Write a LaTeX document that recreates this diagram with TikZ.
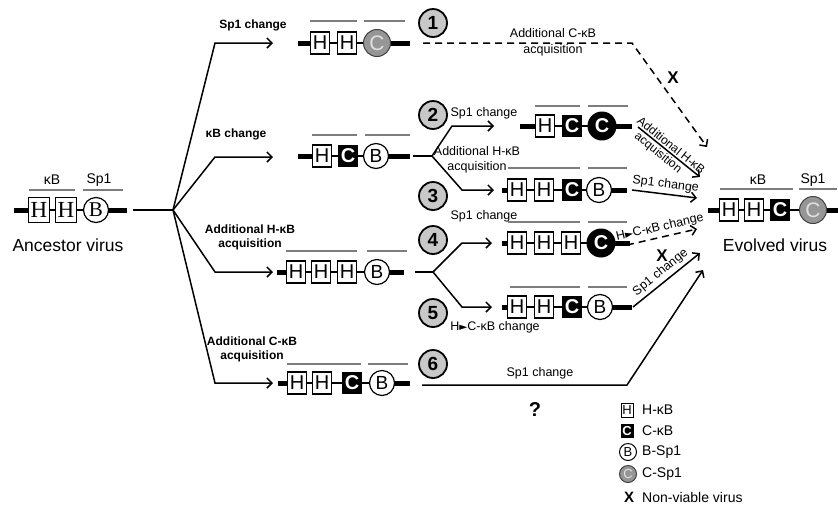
\documentclass[tikz,border=0pt]{standalone}
\usepackage{fontspec}
\setmainfont{Liberation Sans}
\newfontfamily\serifH{Liberation Serif}
\newfontfamily\djv{DejaVu Sans}
\usetikzlibrary{arrows.meta}
\definecolor{numgray}{RGB}{200,200,200}
\definecolor{spgray}{RGB}{150,150,150}
\definecolor{linegray}{RGB}{125,125,125}
\newcommand\bbone[5]{%
  \draw[bbthin] (#2,#1) -- (#5,#1);
  \draw[bbthick] (#2,#1) -- (#3,#1);
  \draw[bbthick] (#4,#1) -- (#5,#1);}
\newcommand\tri{{\djv\fontsize{10.5}{10}\selectfont ►}}
\tikzset{
  bbthin/.style={line width=1.8pt},
  bbthick/.style={line width=5pt},
  hbox/.style={draw, line width=1.1pt, fill=white, minimum width=19pt, minimum height=22pt, inner sep=0pt, font=\fontsize{20}{20}\selectfont},
  ahbox/.style={draw, line width=1.1pt, fill=white, minimum width=21pt, minimum height=25pt, inner sep=0pt, font=\serifH\fontsize{23}{23}\selectfont},
  cbox/.style={fill=black, text=white, minimum width=20pt, minimum height=22pt, inner sep=0pt, font=\bfseries\fontsize{20}{20}\selectfont},
  bcirc/.style={circle, draw, line width=1.2pt, fill=white, minimum size=25pt, inner sep=0pt, font=\fontsize{19}{19}\selectfont},
  abcirc/.style={circle, draw, line width=1.2pt, fill=white, minimum size=25pt, inner sep=0pt, font=\serifH\fontsize{21}{21}\selectfont},
  kcirc/.style={circle, fill=black, text=white, minimum size=29pt, inner sep=0pt, font=\bfseries\fontsize{20}{20}\selectfont},
  gcirc/.style={circle, draw=black!75, line width=1pt, fill=spgray, text=black!12, minimum size=27pt, inner sep=0pt, font=\fontsize{21}{21}\selectfont},
  numc/.style={circle, draw, line width=1.8pt, fill=numgray, minimum size=28pt, inner sep=0pt, font=\bfseries\fontsize{19}{19}\selectfont},
  conn/.style={line width=1.5pt},
  arr/.style={conn, -{Straight Barb[length=5pt,width=10pt]}},
  darr/.style={arr, dash pattern=on 7pt off 5pt},
  glab/.style={draw=linegray, line width=1.1pt},
  lab/.style={font=\fontsize{12.5}{15}\selectfont, inner sep=1pt, align=center},
  slab/.style={font=\fontsize{12}{14}\selectfont, inner sep=1pt},
  blab/.style={font=\bfseries\fontsize{12}{14}\selectfont, inner sep=0pt, align=center},
  toplab/.style={font=\fontsize{14}{14}\selectfont, inner sep=0pt},
  bigl/.style={font=\fontsize{17.5}{18}\selectfont, inner sep=0pt},
  xmark/.style={font=\bfseries\fontsize{17}{17}\selectfont, inner sep=0pt},
  legt/.style={font=\fontsize{14}{14}\selectfont, inner sep=0pt, anchor=west},
  lhbox/.style={draw, line width=0.9pt, fill=white, minimum width=12pt, minimum height=14pt, inner sep=0pt, font=\fontsize{13}{13}\selectfont},
  lcbox/.style={fill=black, text=white, minimum width=13pt, minimum height=14pt, inner sep=0pt, font=\bfseries\fontsize{13}{13}\selectfont},
  lbcirc/.style={circle, draw, line width=1pt, fill=white, minimum size=17pt, inner sep=0pt, font=\fontsize{13}{13}\selectfont},
  lgcirc/.style={circle, draw=black!75, line width=1pt, fill=spgray, text=black!12, minimum size=17pt, inner sep=0pt, font=\fontsize{13}{13}\selectfont},
}
\begin{document}
\begin{tikzpicture}[x=1pt,y=-1pt]
\useasboundingbox (0,0) rectangle (838,507);

% ---------- Ancestor virus
\bbone{210}{14}{39}{96}{127}
\node[ahbox] (a1) at (39,210) {H};
\node[ahbox] (a2) at (66,210) {H};
\node[abcirc] (a3) at (96,210) {B};
\draw[glab] (29,190) -- (75,190);
\draw[glab] (83,190) -- (123,190);
\node[toplab] (akb) at (52,180) {κB};
\node[toplab] (asp) at (99,180) {Sp1};
\node[bigl] (anc) at (68,245) {Ancestor virus};

\coordinate (aout) at (133,210);
\coordinate (br0) at (173,210);
\draw[conn] (aout) -- (br0);
\coordinate (k1) at (215,43);  \coordinate (t1) at (273,43);
\coordinate (k2) at (215,157); \coordinate (t2) at (273,157);
\coordinate (k3) at (215,272); \coordinate (t3) at (273,272);
\coordinate (k4) at (215,383); \coordinate (t4) at (273,383);
\draw[arr] (br0) -- (k1) -- (t1);
\draw[arr] (br0) -- (k2) -- (t2);
\draw[arr] (br0) -- (k3) -- (t3);
\draw[arr] (br0) -- (k4) -- (t4);
\node[blab] (l1) at (253,25) {Sp1 change};
\node[blab] (l2) at (236,134) {κB change};
\node[blab] (l3) at (250,237) {Additional H-κB\\acquisition};
\node[blab] (l4) at (252,349) {Additional C-κB\\acquisition};

% ---------- Row 1
\bbone{43}{298}{320}{377}{410}
\node[hbox] (r1a) at (320,43) {H};
\node[hbox] (r1b) at (347,43) {H};
\node[gcirc] (r1c) at (377,43) {C};
\draw[glab] (310,21) -- (357,21);
\draw[glab] (364,21) -- (405,21);
\node[numc] (n1) at (433,23) {1};

% ---------- kB change row
\bbone{156}{298}{322}{376}{410}
\node[hbox] (k2a) at (322,156) {H};
\node[cbox] (k2b) at (348,156) {C};
\node[bcirc] (k2c) at (376,156) {B};
\draw[glab] (312,135) -- (357,135);
\draw[glab] (365,135) -- (410,135);
\coordinate (kout) at (413,156);
\coordinate (br1) at (432,156);
\coordinate (u2) at (452,126); \coordinate (v2) at (494,126);
\coordinate (u3) at (462,190); \coordinate (v3) at (494,190);
\draw[conn] (kout) -- (br1);
\draw[arr] (br1) -- (u2) -- (v2);
\draw[arr] (br1) -- (u3) -- (v3);
\node[numc] (n2) at (433,115) {2};
\node[numc] (n3) at (433,196) {3};
\node[lab] (s2) at (484,113) {Sp1 change};
\node[lab] (s3a) at (477,160) {Additional H-κB\\acquisition};
\node[lab] (s3b) at (484,216) {Sp1 change};

% ---------- Row 2
\bbone{126}{520}{545}{602}{632}
\node[hbox] (r2a) at (545,126) {H};
\node[cbox] (r2b) at (572,126) {C};
\node[kcirc] (r2c) at (602,126) {C};
\draw[glab] (535,106) -- (580,106);
\draw[glab] (588,106) -- (628,106);

% ---------- Row 3
\bbone{190}{502}{517}{599}{627}
\node[hbox] (r3a) at (517,190) {H};
\node[hbox] (r3b) at (544,190) {H};
\node[cbox] (r3c) at (572,190) {C};
\node[bcirc] (r3d) at (599,190) {B};
\draw[glab] (508,168) -- (580,168);
\draw[glab] (588,168) -- (627,168);

% ---------- Additional H-kB row
\bbone{272}{277}{296}{377}{404}
\node[hbox] (h1) at (296,272) {H};
\node[hbox] (h2) at (321,272) {H};
\node[hbox] (h3) at (347,272) {H};
\node[bcirc] (h4) at (377,272) {B};
\draw[glab] (286,251) -- (357,251);
\draw[glab] (367,251) -- (407,251);
\coordinate (hout) at (415,272);
\coordinate (br2) at (433,272);
\coordinate (u4) at (462,243); \coordinate (v4) at (492,243);
\coordinate (u5) at (462,307); \coordinate (v5) at (492,307);
\draw[conn] (hout) -- (br2);
\draw[arr] (br2) -- (u4) -- (v4);
\draw[arr] (br2) -- (u5) -- (v5);
\node[numc] (n4) at (433,240) {4};
\node[numc] (n5) at (433,313) {5};
\node[lab] (s5) at (495,327) {H\tri C-κB change};

% ---------- Row 4
\bbone{243}{502}{517}{601}{630}
\node[hbox] (r4a) at (517,243) {H};
\node[hbox] (r4b) at (544,243) {H};
\node[hbox] (r4c) at (571,243) {H};
\node[kcirc] (r4d) at (601,243) {C};
\draw[glab] (508,222) -- (580,222);
\draw[glab] (588,222) -- (627,222);

% ---------- Row 5
\bbone{307}{502}{517}{600}{632}
\node[hbox] (r5a) at (517,307) {H};
\node[hbox] (r5b) at (544,307) {H};
\node[cbox] (r5c) at (572,307) {C};
\node[bcirc] (r5d) at (600,307) {B};
\draw[glab] (510,287) -- (580,287);
\draw[glab] (588,287) -- (627,287);

% ---------- Row 6
\bbone{383}{278}{297}{382}{410}
\node[hbox] (r6a) at (297,383) {H};
\node[hbox] (r6b) at (322,383) {H};
\node[cbox] (r6c) at (352,383) {C};
\node[bcirc] (r6d) at (382,383) {B};
\draw[glab] (287,364) -- (361,364);
\draw[glab] (368,364) -- (408,364);
\node[numc] (n6) at (433,364) {6};

% ---------- Evolved virus
\bbone{210}{708}{729}{813}{838}
\node[hbox] (e1) at (729,210) {H};
\node[hbox] (e2) at (754,210) {H};
\node[cbox] (e3) at (780,210) {C};
\node[gcirc] (e4) at (813,210) {C};
\draw[glab] (720,189) -- (793,189);
\draw[glab] (799,189) -- (837,189);
\node[toplab] (ekb) at (758,180) {κB};
\node[toplab] (esp) at (813,180) {Sp1};
\node[bigl] (evo) at (775,245) {Evolved virus};

% ---------- paths to evolved virus
\coordinate (p1a) at (423,43); \coordinate (p1b) at (632,43); \coordinate (p1c) at (707,147);
\draw[darr] (p1a) -- (p1b) -- (p1c);
\node[lab] (m1a) at (553,33) {Additional C-κB};
\node[lab] (m1b) at (553,50) {acquisition};
\node[xmark] (x1) at (673,78) {X};

\coordinate (p2a) at (638,127); \coordinate (p2b) at (700,177);
\draw[arr] (p2a) -- (p2b)
  node[pos=0.47, above=0.5pt, sloped, slab] {Additional H-κB}
  node[pos=0.40, below=0.5pt, sloped, slab] {acquisition};

\coordinate (p3a) at (632,190); \coordinate (p3b) at (697,198);
\draw[arr] (p3a) -- (p3b) node[midway, above=2pt, sloped, lab] {Sp1 change};

\coordinate (p4a) at (627,245); \coordinate (p4b) at (697,229);
\draw[darr] (p4a) -- (p4b) node[midway, above=2pt, sloped, lab] {H\tri C-κB change};
\node[xmark] (x4) at (662,256) {X};

\coordinate (p5a) at (633,307); \coordinate (p5b) at (700,253);
\draw[arr] (p5a) -- (p5b) node[midway, above=2pt, sloped, lab] {Sp1 change};

\coordinate (p6a) at (422,385); \coordinate (p6b) at (627,385); \coordinate (p6c) at (703,270);
\draw[arr] (p6a) -- (p6b) -- (p6c);
\node[lab] (s6) at (540,373) {Sp1 change};
\node[font=\bfseries\fontsize{20}{20}\selectfont, inner sep=0pt] (q) at (535,410) {?};

% ---------- Legend
\node[lhbox] (lh) at (627,410) {H};
\node[legt] (lht) at (642,410) {H-κB};
\node[lcbox] (lc) at (627,431) {C};
\node[legt] (lct) at (642,431) {C-κB};
\node[lbcirc] (lb) at (628,452) {B};
\node[legt] (lbt) at (642,452) {B-Sp1};
\node[lgcirc] (lg) at (628,474) {C};
\node[legt] (lgt) at (642,474) {C-Sp1};
\node[xmark, font=\bfseries\fontsize{15}{15}\selectfont] (lx) at (629,497) {X};
\node[legt] (lxt) at (642,497) {Non-viable virus};
\end{tikzpicture}
\end{document}
